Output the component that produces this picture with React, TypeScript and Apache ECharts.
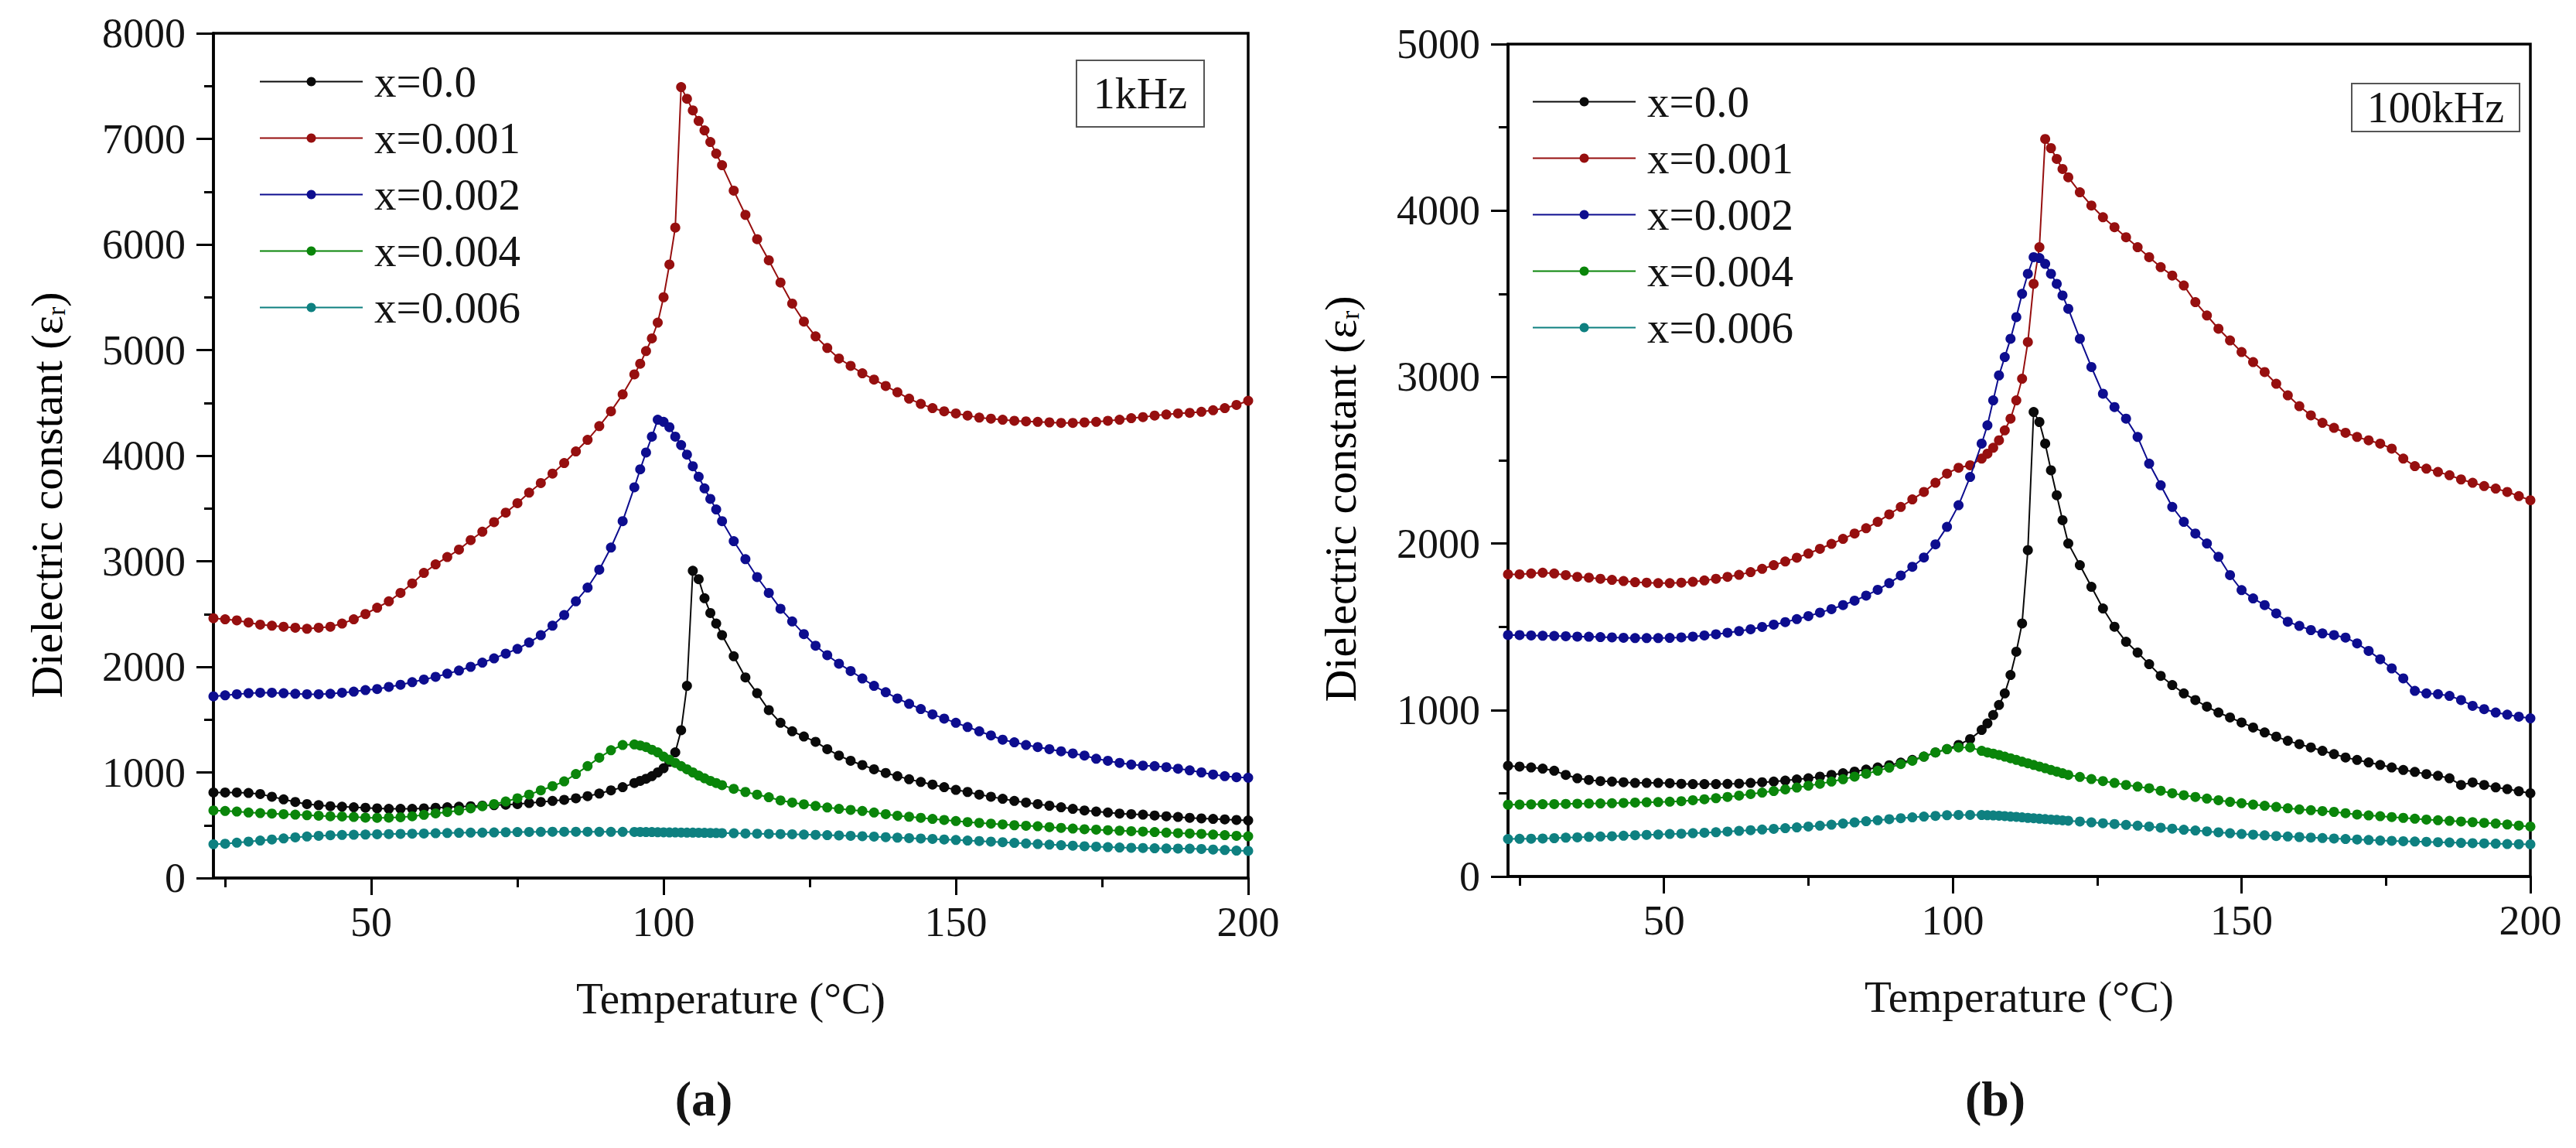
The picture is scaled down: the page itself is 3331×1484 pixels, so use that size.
import { useEffect, useRef } from "react";
import * as echarts from "echarts";

// shared legend names and colours
const SERIES_NAMES = ["x=0.0", "x=0.001", "x=0.002", "x=0.004", "x=0.006"];
const SERIES_COLORS = ["#0a0a0a", "#960f0f", "#0d0d8f", "#0a850a", "#0e8080"];

const T_MIN = 23;
const T_MAX = 200;
const X_MAJOR = [50, 100, 150, 200];
const X_MINOR = [25, 75, 125, 175];

// (a) 1 kHz
const TEMPS_1K = [
  23, 25, 27, 29, 31, 33, 35, 37, 39, 41, 43, 45, 47, 49, 51, 53, 55, 57, 59, 61, 63, 65, 67, 69, 71, 73, 75, 77, 79, 81, 83, 85, 87, 89, 91, 93, 95,
  96, 97, 98, 99, 100, 101, 102, 103, 104, 105, 106, 107, 108, 109, 110,
  112, 114, 116, 118, 120, 122, 124, 126, 128, 130, 132, 134, 136, 138, 140, 142, 144, 146, 148, 150, 152, 154, 156, 158, 160, 162, 164, 166, 168, 170,
  172, 174, 176, 178, 180, 182, 184, 186, 188, 190, 192, 194, 196, 198, 200,
];
const EPS_1K_X0 = [
  810, 810, 810, 805, 795, 770, 745, 720, 700, 690, 680, 675, 670, 665, 660, 655, 655, 655, 660, 665, 670, 675, 680, 685, 690, 695, 700, 710, 720, 730,
  740, 755, 775, 800, 830, 860, 900,
  920, 940, 965, 1000, 1040, 1100, 1190, 1400, 1820, 2910, 2830, 2650, 2510, 2410, 2300,
  2100, 1900, 1750, 1590, 1470, 1390, 1340, 1290, 1220, 1160, 1110, 1070, 1030, 995, 965, 935, 910, 885, 860, 835, 815, 790, 770, 750, 730, 715, 700,
  685, 670, 655, 640, 630, 620, 610, 605, 600, 592, 585, 578, 570, 565, 560, 555, 550, 545,
];
const EPS_1K_X001 = [
  2460, 2450, 2440, 2420, 2400, 2390, 2380, 2370, 2360, 2370, 2380, 2410, 2450, 2500, 2560, 2620, 2700, 2790, 2890, 2970, 3040, 3110, 3200, 3280, 3370,
  3460, 3550, 3650, 3740, 3830, 3930, 4040, 4150, 4280, 4420, 4580, 4770,
  4870, 4990, 5110, 5260, 5500, 5810, 6160, 7490, 7380, 7270, 7170, 7080, 6970, 6860, 6750,
  6510, 6280, 6050, 5850, 5640, 5440, 5270, 5130, 5020, 4920, 4850, 4780, 4720, 4660, 4600, 4540, 4490, 4450, 4420, 4400, 4380, 4360, 4350, 4340, 4330,
  4325, 4320, 4315, 4310, 4310, 4315, 4320, 4330, 4340, 4355, 4365, 4380, 4390, 4400, 4405, 4415, 4430, 4450, 4480, 4520,
];
const EPS_1K_X002 = [
  1720, 1730, 1740, 1750, 1755, 1755, 1750, 1745, 1740, 1740, 1745, 1755, 1765, 1780, 1790, 1810, 1830, 1855, 1880, 1905, 1935, 1965, 2000, 2040, 2080,
  2125, 2170, 2230, 2300, 2390, 2490, 2620, 2750, 2920, 3130, 3380, 3700,
  3870, 4030, 4180, 4340, 4320, 4270, 4180, 4100, 4010, 3900, 3800, 3690, 3590, 3490, 3380,
  3190, 3020, 2850, 2700, 2550, 2430, 2310, 2200, 2110, 2030, 1960, 1890, 1820, 1760, 1700, 1650, 1600, 1550, 1510, 1470, 1430, 1390, 1350, 1310, 1285,
  1260, 1240, 1220, 1200, 1180, 1160, 1130, 1110, 1090, 1075, 1065, 1060, 1050, 1035, 1020, 1000, 980, 965, 955, 950,
];
const EPS_1K_X004 = [
  640, 635, 630, 620, 615, 610, 605, 600, 595, 590, 585, 583, 578, 572, 570, 572, 576, 585, 598, 612, 625, 640, 660, 680, 700, 725, 755, 790, 830, 870,
  915, 985, 1060, 1140, 1210, 1260, 1265,
  1255, 1240, 1215, 1190, 1150, 1120, 1090, 1060, 1030, 1000, 970, 945, 920, 900, 880,
  845, 815, 790, 765, 735, 715, 698, 683, 668, 655, 645, 635, 620, 605, 590, 580, 570, 560, 550, 540, 530, 522, 515, 508, 500, 495, 490, 482, 475, 468,
  462, 458, 453, 448, 444, 440, 435, 430, 425, 422, 418, 412, 406, 400, 395,
];
const EPS_1K_X006 = [
  320, 325, 335, 345, 355, 365, 375, 385, 393, 400, 405, 408, 410, 412, 414, 416, 418, 420, 422, 424, 426, 428, 430, 430, 432, 434, 435, 436, 437, 438,
  438, 438, 438, 437, 437, 437, 436,
  436, 435, 435, 434, 433, 432, 432, 431, 430, 430, 429, 428, 427, 426, 425,
  424, 422, 420, 418, 416, 414, 412, 409, 406, 403, 400, 396, 392, 387, 382, 378, 374, 370, 365, 360, 355, 350, 345, 339, 333, 327, 322, 316, 311, 306,
  301, 297, 293, 289, 286, 284, 282, 280, 279, 278, 275, 270, 265, 260, 257,
];

// (b) 100 kHz
const TEMPS_100K = [
  23, 25, 27, 29, 31, 33, 35, 37, 39, 41, 43, 45, 47, 49, 51, 53, 55, 57, 59, 61, 63, 65, 67, 69, 71, 73, 75, 77, 79, 81, 83, 85, 87, 89, 91, 93, 95, 97,
  99, 101, 103, 105,
  106, 107, 108, 109, 110, 111, 112, 113, 114, 115, 116, 117, 118, 119, 120,
  122, 124, 126, 128, 130, 132, 134, 136, 138, 140, 142, 144, 146, 148, 150, 152, 154, 156, 158, 160, 162, 164, 166, 168, 170, 172, 174, 176, 178, 180,
  182, 184, 186, 188, 190, 192, 194, 196, 198, 200,
];
const EPS_100K_X0 = [
  665, 660, 655, 648, 635, 610, 590, 580, 573, 570, 566, 562, 562, 562, 560, 557, 555, 555, 555, 556, 558, 562, 566, 570, 576, 583, 590, 600, 610, 620,
  630, 642, 655, 668, 684, 700, 720, 745, 765, 790, 825, 880,
  920, 970, 1030, 1100, 1210, 1350, 1520, 1960, 2790, 2730, 2600, 2440, 2290, 2140, 2000,
  1870, 1740, 1610, 1500, 1410, 1345, 1275, 1205, 1150, 1100, 1060, 1020, 985, 955, 925, 895, 865, 840, 815, 795, 775, 755, 735, 715, 700, 685, 670,
  655, 640, 628, 615, 605, 590, 550, 565, 550, 535, 525, 512, 500,
];
const EPS_100K_X001 = [
  1815, 1815, 1820, 1825, 1820, 1810, 1800, 1795, 1788, 1782, 1775, 1768, 1765, 1762, 1762, 1765, 1770, 1778, 1788, 1800, 1812, 1828, 1848, 1870, 1892,
  1915, 1940, 1968, 1998, 2028, 2060, 2092, 2130, 2175, 2220, 2265, 2310, 2365, 2420, 2455, 2470, 2510,
  2540, 2575, 2620, 2680, 2750, 2860, 2990, 3210, 3560, 3780, 4430, 4375, 4310, 4250, 4200,
  4110, 4030, 3960, 3900, 3840, 3780, 3720, 3660, 3610, 3550, 3450, 3370, 3290, 3220, 3150, 3090, 3030, 2960, 2890, 2825, 2770, 2725, 2695, 2665, 2640,
  2620, 2600, 2570, 2510, 2465, 2450, 2430, 2410, 2385, 2365, 2345, 2330, 2310, 2285, 2260,
];
const EPS_100K_X002 = [
  1450, 1450, 1448, 1446, 1445, 1443, 1441, 1440, 1438, 1436, 1434, 1432, 1432, 1432, 1433, 1436, 1441, 1448, 1455, 1464, 1474, 1485, 1499, 1513, 1528,
  1546, 1564, 1585, 1606, 1630, 1657, 1687, 1722, 1762, 1808, 1860, 1916, 1995, 2100, 2230, 2400, 2600,
  2710, 2860, 3010, 3120, 3230, 3360, 3500, 3620, 3720, 3715, 3680, 3620, 3560, 3490, 3410,
  3230, 3060, 2900, 2820, 2750, 2640, 2480, 2350, 2220, 2130, 2060, 2000, 1920, 1810, 1720, 1670, 1630, 1580, 1530, 1505, 1480, 1460, 1450, 1435, 1400,
  1355, 1305, 1250, 1190, 1115, 1100, 1095, 1085, 1060, 1025, 1005, 985, 972, 960, 950,
];
const EPS_100K_X004 = [
  431, 432, 433, 434, 435, 436, 437, 438, 439, 440, 442, 444, 446, 447, 449, 452, 458, 464, 470, 478, 486, 495, 504, 513, 523, 534, 545, 557, 570, 584,
  600, 617, 635, 654, 675, 695, 720, 745, 765, 775, 775, 755,
  745, 738, 730, 720, 710, 700, 690, 680, 670, 660, 650, 640, 630, 620, 610,
  598, 585, 573, 562, 550, 540, 530, 515, 500, 488, 478, 468, 458, 448, 440, 432, 425, 418, 410, 403, 398, 393, 388, 380, 372, 367, 362, 357, 352, 347,
  342, 338, 334, 330, 326, 322, 318, 312, 306, 300,
];
const EPS_100K_X006 = [
  225, 226, 227, 228, 230, 233, 235, 238, 240, 242, 245, 248, 250, 252, 255, 257, 260, 263, 266, 270, 274, 278, 282, 286, 290, 295, 300, 305, 311, 318,
  325, 332, 338, 344, 350, 355, 360, 364, 368, 370, 370, 369,
  368, 367, 365, 363, 360, 358, 355, 352, 350, 347, 345, 342, 340, 337, 335,
  330, 325, 320, 315, 310, 305, 300, 293, 287, 281, 276, 271, 265, 260, 255, 251, 247, 243, 240, 237, 234, 231, 228, 225, 222, 219, 216, 214, 212, 210,
  208, 206, 204, 202, 200, 199, 197, 195, 194, 193,
];

const PANELS = [
  { temps: TEMPS_1K, values: [EPS_1K_X0, EPS_1K_X001, EPS_1K_X002, EPS_1K_X004, EPS_1K_X006], yMax: 8000 },
  { temps: TEMPS_100K, values: [EPS_100K_X0, EPS_100K_X001, EPS_100K_X002, EPS_100K_X004, EPS_100K_X006], yMax: 5000 },
];

const FONT = "Liberation Serif";
const INK = "#141414";

export default function App() {
  const ref = useRef<HTMLDivElement | null>(null);

  useEffect(() => {
    if (!ref.current) return;
    const chart = echarts.init(ref.current, undefined, { renderer: "svg" });

    const grids = [
      { left: 276, top: 43, width: 1338, height: 1092 },
      { left: 1950, top: 57, width: 1322, height: 1076 },
    ];

    const xAxes: any[] = [];
    const yAxes: any[] = [];
    const series: any[] = [];

    PANELS.forEach((panel, p) => {
      xAxes.push({
        type: "value",
        gridIndex: p,
        min: T_MIN,
        max: T_MAX,
        position: "bottom",
        name: "Temperature (°C)",
        nameLocation: "middle",
        nameGap: 127,
        nameTextStyle: { fontFamily: FONT, fontSize: 57, color: INK },
        axisLine: { show: true, onZero: false, lineStyle: { color: "#000", width: 3.5 } },
        axisTick: { show: true, customValues: X_MAJOR, length: 22, lineStyle: { color: "#000", width: 3 } },
        axisLabel: {
          show: true,
          customValues: X_MAJOR,
          margin: 30,
          fontFamily: FONT,
          fontSize: 54,
          color: INK,
          formatter: (v: number) => String(v),
        },
        splitLine: { show: false },
      });
      xAxes.push({
        type: "value",
        gridIndex: p,
        min: T_MIN,
        max: T_MAX,
        position: "bottom",
        axisLine: { show: false, onZero: false },
        axisTick: { show: true, customValues: X_MINOR, length: 12, lineStyle: { color: "#000", width: 3 } },
        axisLabel: { show: false },
        splitLine: { show: false },
      });
      yAxes.push({
        type: "value",
        gridIndex: p,
        min: 0,
        max: panel.yMax,
        interval: 1000,
        axisLine: { show: true, lineStyle: { color: "#000", width: 3.5 } },
        axisTick: { show: true, length: 22, lineStyle: { color: "#000", width: 3 } },
        minorTick: { show: true, splitNumber: 2, length: 12, lineStyle: { color: "#000", width: 3 } },
        axisLabel: { margin: 36, fontFamily: FONT, fontSize: 54, color: INK, formatter: (v: number) => String(v) },
        splitLine: { show: false },
        minorSplitLine: { show: false },
      });

      panel.values.forEach((vals, i) => {
        series.push({
          type: "line",
          name: SERIES_NAMES[i],
          xAxisIndex: p * 2,
          yAxisIndex: p,
          data: panel.temps.map((t, k) => [t, vals[k]]),
          symbol: "circle",
          symbolSize: 13,
          showSymbol: true,
          showAllSymbol: true,
          color: SERIES_COLORS[i],
          lineStyle: { width: 2, color: SERIES_COLORS[i] },
          itemStyle: { color: SERIES_COLORS[i] },
          emphasis: { disabled: true },
          z: 2 + i,
        });
      });
    });

    const legendBase = {
      orient: "vertical",
      itemWidth: 133,
      itemHeight: 15,
      itemGap: 0,
      selectedMode: false,
      data: SERIES_NAMES,
      textStyle: { fontFamily: FONT, fontSize: 57, color: INK, lineHeight: 73, padding: [0, 0, 0, 10] },
    };

    const yTitle = {
      text: "{n|Dielectric constant (ε}{s|r}{n|)}",
      rich: {
        n: { fontFamily: FONT, fontSize: 58, color: INK },
        s: { fontFamily: FONT, fontSize: 34, color: INK, verticalAlign: "bottom" },
      },
      align: "center",
      verticalAlign: "middle",
    };

    chart.setOption({
      animation: false,
      backgroundColor: "#fff",
      textStyle: { fontFamily: FONT },
      grid: grids.map((g) => ({ ...g, show: true, borderColor: "#000", borderWidth: 3.5, containLabel: false })),
      xAxis: xAxes,
      yAxis: yAxes,
      legend: [
        { ...legendBase, left: 330, top: 64 },
        { ...legendBase, left: 1976, top: 90 },
      ],
      series,
      graphic: [
        { type: "text", x: 60, y: 640, rotation: Math.PI / 2, style: yTitle },
        { type: "text", x: 1733, y: 645, rotation: Math.PI / 2, style: yTitle },
        {
          type: "text",
          x: 910,
          y: 1420,
          style: { text: "(a)", fontFamily: FONT, fontSize: 64, fontWeight: "bold", fill: INK, align: "center", verticalAlign: "middle" },
        },
        {
          type: "text",
          x: 2580,
          y: 1420,
          style: { text: "(b)", fontFamily: FONT, fontSize: 64, fontWeight: "bold", fill: INK, align: "center", verticalAlign: "middle" },
        },
        { type: "rect", shape: { x: 1392, y: 78, width: 165, height: 86 }, style: { fill: "#fff", stroke: "#555", lineWidth: 2 }, z: 10 },
        {
          type: "text",
          x: 1474.5,
          y: 121,
          z: 11,
          style: { text: "1kHz", fontFamily: FONT, fontSize: 56, fill: INK, align: "center", verticalAlign: "middle" },
        },
        { type: "rect", shape: { x: 3041, y: 108, width: 217, height: 62 }, style: { fill: "#fff", stroke: "#555", lineWidth: 2 }, z: 10 },
        {
          type: "text",
          x: 3149.5,
          y: 139,
          z: 11,
          style: { text: "100kHz", fontFamily: FONT, fontSize: 56, fill: INK, align: "center", verticalAlign: "middle" },
        },
      ],
    });

    return () => chart.dispose();
  }, []);

  return <div ref={ref} style={{ position: "absolute", left: 0, top: 0, width: 3331, height: 1484, background: "#fff" }} />;
}
